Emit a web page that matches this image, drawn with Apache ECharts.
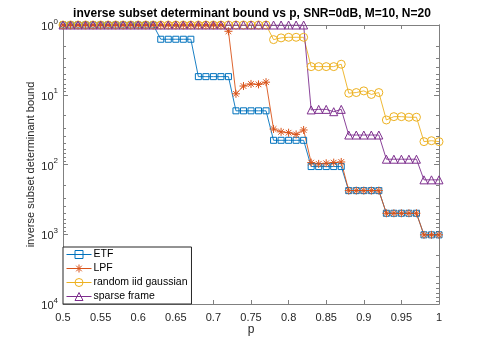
<!DOCTYPE html>
<html>
<head>
<meta charset="utf-8">
<script src="https://cdn.jsdelivr.net/npm/echarts@6/dist/echarts.min.js"></script>
<style>
  html, body { margin: 0; padding: 0; background: #fff; }
  #chart { width: 485px; height: 342px; }
</style>
</head>
<body>
<div id="chart"></div>
<script>
// p = 0.50 ... 1.00, step 0.01
const pValues = [
  0.50, 0.51, 0.52, 0.53, 0.54, 0.55, 0.56, 0.57, 0.58, 0.59,
  0.60, 0.61, 0.62, 0.63, 0.64, 0.65, 0.66, 0.67, 0.68, 0.69,
  0.70, 0.71, 0.72, 0.73, 0.74, 0.75, 0.76, 0.77, 0.78, 0.79,
  0.80, 0.81, 0.82, 0.83, 0.84, 0.85, 0.86, 0.87, 0.88, 0.89,
  0.90, 0.91, 0.92, 0.93, 0.94, 0.95, 0.96, 0.97, 0.98, 0.99, 1.00
]

const etf = [
  1, 1, 1, 1, 1, 1, 1, 1, 1, 1,
  1, 1, 1, 1.6, 1.6, 1.6, 1.6, 1.6, 5.5, 5.5,
  5.5, 5.5, 5.5, 17, 17, 17, 17, 17, 45, 45,
  45, 45, 45, 107, 107, 107, 107, 107, 237, 237,
  237, 237, 237, 500, 500, 500, 500, 500, 1020, 1020, 1020
]

const lpf = [
  1, 1, 1, 1, 1, 1, 1, 1, 1, 1,
  1, 1, 1, 1, 1, 1, 1, 1, 1, 1,
  1, 1, 1.23, 9.7, 7.5, 7.0, 7.1, 6.6, 31, 34,
  35, 37, 32, 94, 98, 96, 94, 92, 237, 237,
  237, 237, 237, 500, 500, 500, 500, 500, 1020, 1020, 1020
]

const gaussian = [
  1, 1, 1, 1, 1, 1, 1, 1, 1, 1,
  1, 1, 1, 1, 1, 1, 1, 1, 1, 1,
  1, 1, 1, 1, 1, 1, 1, 1, 1.62, 1.53,
  1.5, 1.5, 1.5, 3.95, 3.95, 3.95, 3.95, 3.65, 9.5, 9.3,
  8.8, 9.9, 9.3, 23, 20.6, 20.6, 21, 21, 47, 45.6, 47
]

const sparse = [
  1, 1, 1, 1, 1, 1, 1, 1, 1, 1,
  1, 1, 1, 1, 1, 1, 1, 1, 1, 1,
  1, 1, 1, 1, 1, 1, 1, 1, 1, 1,
  1, 1, 1, 16.5, 16.2, 16.2, 17.5, 16.2, 37.8, 37.8,
  37.8, 37.8, 37.8, 84, 84, 84, 84, 84, 166, 166, 166
]

const yMajorTicks = [1, 10, 100, 1000, 10000]
const yMinorTicks = [
  2, 3, 4, 5, 6, 7, 8, 9,
  20, 30, 40, 50, 60, 70, 80, 90,
  200, 300, 400, 500, 600, 700, 800, 900,
  2000, 3000, 4000, 5000, 6000, 7000, 8000, 9000
]

const FONT = 'Liberation Sans'
const AXIS_COLOR = '#808080'
const asterisk = 'path://M-5,0L5,0M0,-5L0,5M-3.5,-3.5L3.5,3.5M-3.5,3.5L3.5,-3.5'

const chart = echarts.init(document.getElementById('chart'))

function pairs(values) {
  return pValues.map((p, i) => [p, values[i]])
}

function xAxisDef(position, withLabels) {
  return {
    type: 'value',
    position,
    min: 0.5,
    max: 1,
    interval: 0.05,
    name: withLabels ? 'p' : '',
    nameLocation: 'middle',
    nameGap: 20,
    nameMoveOverlap: false,
    nameTextStyle: { fontFamily: FONT, fontSize: 12, color: '#262626' },
    axisLine: { show: true, lineStyle: { color: AXIS_COLOR, width: 1 } },
    axisTick: { show: true, inside: true, length: 4, lineStyle: { color: AXIS_COLOR } },
    axisLabel: {
      show: withLabels,
      margin: 8,
      fontFamily: FONT,
      fontSize: 11,
      color: '#262626',
      formatter: (v) => String(+v.toFixed(2))
    },
    splitLine: { show: false }
  }
}

const sup = { 0: '0', 1: '1', 2: '2', 3: '3', 4: '4' }

function yAxisDef(position, withLabels, ticks, len) {
  return {
    type: 'log',
    logBase: 10,
    position,
    min: 1,
    max: 10000,
    inverse: true,
    name: withLabels ? 'inverse subset determinant bound' : '',
    nameLocation: 'middle',
    nameGap: 27,
    nameMoveOverlap: false,
    nameTextStyle: { fontFamily: FONT, fontSize: 11, color: '#262626' },
    axisLine: { show: true, lineStyle: { color: AXIS_COLOR, width: 1 } },
    axisTick: { show: true, inside: true, length: len, customValues: ticks, lineStyle: { color: AXIS_COLOR } },
    axisLabel: {
      show: withLabels,
      margin: 5,
      customValues: withLabels ? yMajorTicks : undefined,
      formatter: (v) => '{b|10}{s|' + sup[Math.round(Math.log10(v))] + '}',
      rich: {
        b: { fontFamily: FONT, fontSize: 11, color: '#262626', lineHeight: 15, verticalAlign: 'bottom' },
        s: { fontFamily: FONT, fontSize: 8, color: '#262626', lineHeight: 13, verticalAlign: 'top' }
      }
    },
    splitLine: { show: false }
  }
}

function lineSeries(name, values, color, symbol, size) {
  return {
    name,
    type: 'line',
    xAxisIndex: 0,
    yAxisIndex: 0,
    data: pairs(values),
    symbol,
    symbolSize: size,
    showAllSymbol: true,
    lineStyle: { color, width: 0.9 },
    itemStyle: { color: 'transparent', borderColor: color, borderWidth: 1 },
    emphasis: { disabled: true },
    animation: false
  }
}

chart.setOption({
  animation: false,
  backgroundColor: '#fff',
  title: {
    text: 'inverse subset determinant bound vs p, SNR=0dB, M=10, N=20',
    left: 247,
    top: 3,
    textAlign: 'center',
    textStyle: { fontFamily: FONT, fontSize: 12, fontWeight: 'bold', color: '#000' }
  },
  grid: { left: 63, right: 46, top: 25, bottom: 38 },
  legend: {
    orient: 'vertical',
    left: 63,
    top: 247,
    itemWidth: 25,
    itemHeight: 10,
    itemGap: 3,
    padding: [2, 4, 2, 3],
    backgroundColor: '#fff',
    borderColor: '#262626',
    borderWidth: 1,
    lineStyle: { width: 1 },
    itemStyle: { borderWidth: 1 },
    textStyle: { fontFamily: FONT, fontSize: 10.5, lineHeight: 11, color: '#000', padding: [0, 0, 0, -3] },
    data: ['ETF', 'LPF', 'random iid gaussian', 'sparse frame']
  },
  xAxis: [xAxisDef('bottom', true), xAxisDef('top', false)],
  yAxis: [
    yAxisDef('left', true, yMajorTicks, 5),
    yAxisDef('left', false, yMinorTicks, 3),
    yAxisDef('right', false, yMajorTicks, 5),
    yAxisDef('right', false, yMinorTicks, 3)
  ],
  series: [
    lineSeries('ETF', etf, '#0072BD', 'rect', 6),
    lineSeries('LPF', lpf, '#D95319', asterisk, 8),
    lineSeries('random iid gaussian', gaussian, '#EDB120', 'circle', 8),
    lineSeries('sparse frame', sparse, '#7E2F8E', 'triangle', 8)
  ]
})
</script>
</body>
</html>
